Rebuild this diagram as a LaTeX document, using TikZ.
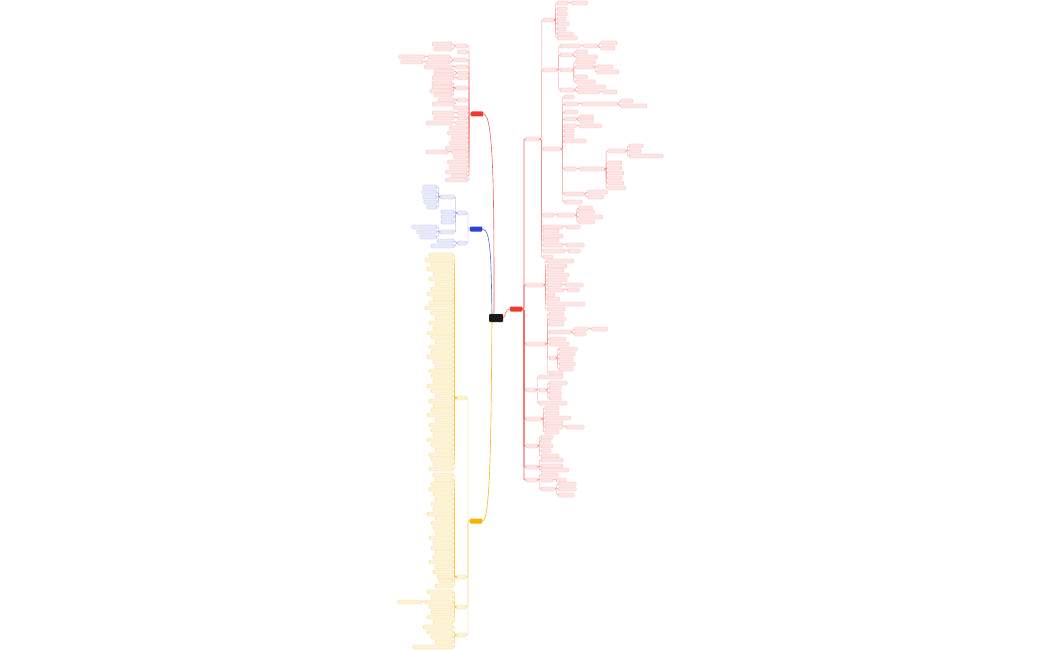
\documentclass[tikz,border=0pt]{standalone}
\usepackage{xcolor}
\usepackage{tikz}
\usetikzlibrary{positioning, calc}
\definecolor{mred}{HTML}{F03A2E}
\definecolor{mblue}{HTML}{2B44D6}
\definecolor{myel}{HTML}{F4B400}

\tikzset{
  rleaf/.style={fill=mred!13, draw=mred!35, line width=0.3pt, rounded corners=1.2pt, inner sep=0pt, minimum height=4pt},
  bleaf/.style={fill=mblue!11, draw=mblue!35, line width=0.3pt, rounded corners=1.2pt, inner sep=0pt, minimum height=4pt},
  yleaf/.style={fill=myel!16, draw=myel!50, line width=0.3pt, rounded corners=1.2pt, inner sep=0pt, minimum height=4pt},
  rlink/.style={draw=mred!60, line width=0.35pt, rounded corners=1.2pt},
  blink/.style={draw=mblue!55, line width=0.35pt, rounded corners=1.2pt},
  ylink/.style={draw=myel!75, line width=0.35pt, rounded corners=1.2pt},
  topic/.style={rounded corners=1pt, inner sep=0pt, minimum width=12.5pt, minimum height=5pt},
}

% children to the right of a parent: parent, prefix, {y/width,...}
\newcommand\rkids[3]{%
  \path (#1.east) ++(3,0) coordinate (tmp);
  \foreach \yy/\ww [count=\k] in {#3}{
    \node[leaf, anchor=west, minimum width=\ww pt] (#2-\k) at (tmp |- 0,\yy) {};
    \draw[link] (#1.east) -- ++(1.5,0) |- (#2-\k.west);
  }}
% children to the left of a parent
\newcommand\lkids[3]{%
  \path (#1.west) ++(-3,0) coordinate (tmp);
  \foreach \yy/\ww [count=\k] in {#3}{
    \node[leaf, anchor=east, minimum width=\ww pt] (#2-\k) at (tmp |- 0,\yy) {};
    \draw[link] (#1.west) -- ++(-1.5,0) |- (#2-\k.east);
  }}

\begin{document}
\begin{tikzpicture}[x=1pt, y=-1pt]
\useasboundingbox[fill=white] (0,0) rectangle (1050,650);

% centre and the four main topics
\node[topic, fill=black!90, minimum width=14pt, minimum height=8pt] (core) at (496,318) {};
\node[topic, fill=mred] (rmain) at (516,309) {};
\node[topic, fill=mred] (lmain) at (477,114) {};
\node[topic, fill=mblue] (bmain) at (476,229) {};
\node[topic, fill=myel] (ymain) at (476,521) {};

\draw[mred!80, line width=0.6pt] (core.east) .. controls (506,316) and (505,309) .. (rmain.west);
\draw[mred!80, line width=0.6pt] ([xshift=-2pt]core.north) .. controls (494,200) and (494,114) .. (lmain.east);
\draw[mblue!80, line width=0.6pt] ([xshift=-4pt]core.north) .. controls (491,260) and (491,229) .. (bmain.east);
\draw[myel!90, line width=0.6pt] ([xshift=-4pt]core.south) .. controls (491,420) and (491,521) .. (ymain.east);

% ---- right red branch
\begin{scope}[leaf/.style={rleaf}, link/.style={rlink, draw=mred!80, line width=0.6pt}]
\rkids{rmain}{a}{139/14, 285/18, 344/20, 390/10, 419/16, 446/12, 467/12, 480/12}
\end{scope}
\begin{scope}[leaf/.style={rleaf}, link/.style={rlink}]
\rkids{a-1}{aa}{20/11, 70/14, 149/18, 215/11, 227/20, 231/16, 236/20, 240/16, 245/20, 251/22, 257/10}
\rkids{aa-1}{aaa}{3/11, 9/10, 14/10, 19/9, 24/12, 29/9, 34/16, 38/20}
\rkids{aaa-1}{aaaa}{3/16}
\rkids{aa-2}{aab}{46/20, 55/12, 70/12, 90/14}
\rkids{aab-1}{aaba}{46/14}
\rkids{aaba-1}{aabaa}{43/16, 48/14}
\rkids{aab-2}{aabb}{52/12, 57/22}
\rkids{aab-3}{aabc}{62/20, 67/18, 77/12, 82/20}
\rkids{aabc-2}{aabca}{67/16, 72/22}
\rkids{aab-4}{aabd}{87/28, 92/22}
\rkids{aabd-2}{aabda}{92/14}
\rkids{aa-3}{aac}{97/10, 104/14, 112/14, 119/12, 126/12, 131/10, 136/10, 141/22, 169/12, 194/20, 202/18}
\rkids{aac-2}{aaca}{104/36}
\rkids{aaca-1}{aacaa}{101/12, 106/26}
\rkids{aac-4}{aacb}{117/14, 121/14}
\rkids{aac-5}{aacc}{126/22}
\rkids{aac-9}{aacd}{169/25}
\rkids{aacd-1}{aacda}{151/18, 163/14, 168/14, 173/16, 178/14, 183/16, 188/18}
\rkids{aacda-1}{aacdaa}{146/14, 151/12, 156/34}
\rkids{aac-10}{aace}{192/20, 197/16}
\rkids{aa-4}{aad}{215/18}
\rkids{aad-1}{aada}{208/14, 212/16, 217/24, 222/16}
\rkids{aa-5}{aae}{227/14}
\rkids{aa-9}{aaf}{245/18}
\rkids{aa-10}{aag}{251/12}
\rkids{a-2}{ab}{261/27, 266/20, 270/17, 275/22, 280/20, 285/15, 290/17, 295/8, 299/13, 304/38, 309/18}
\rkids{ab-6}{aba}{285/18}
\rkids{ab-7}{abb}{290/12}
\rkids{a-3}{ac}{314/15, 319/17, 324/15, 332/22, 339/17, 344/20, 358/7, 373/14}
\rkids{ac-4}{aca}{329/14, 334/12}
\rkids{aca-1}{acaa}{329/16}
\rkids{ac-7}{acb}{349/18, 354/16, 359/14, 364/16, 369/14}
\rkids{a-4}{ad}{377/24, 390/7, 403/28}
\rkids{ad-2}{ada}{383/18, 388/12, 393/12, 398/12}
\rkids{a-5}{ae}{408/14, 413/14, 418/26, 423/18, 427/18, 432/14}
\rkids{ae-5}{aea}{427/18}
\rkids{a-6}{af}{437/12, 441/10, 446/12, 451/10, 456/18}
\rkids{a-7}{ag}{460/22, 466/22, 470/28}
\rkids{a-8}{ah}{475/17, 480/12, 489/14}
\rkids{ah-2}{aha}{480/10}
\rkids{ah-3}{ahb}{484/18, 489/18, 495/16}
\end{scope}

% ---- left red branch
\begin{scope}[leaf/.style={rleaf}, link/.style={rlink}]
\lkids{lmain}{l}{46/12, 52/10, 60/14, 67/12, 73/10, 78/10, 88/12, 100/10, 108/14, 113/10, 118/10, 123/12, 128/18, 133/20, 138/16, 143/18, 148/22, 152/16, 157/14, 162/20, 167/18, 172/22, 176/16, 180/22}
\lkids{l-1}{la}{44/20, 49/18}
\lkids{l-3}{lb}{57/22, 62/24}
\lkids{lb-1}{lba}{57/26}
\lkids{lb-2}{lbb}{62/22}
\lkids{l-4}{lc}{67/28}
\lkids{l-5}{ld}{71/20, 75/20}
\lkids{l-6}{le}{78/22}
\lkids{l-7}{lf}{83/20, 87/20, 91/22, 95/18}
\lkids{l-8}{lg}{100/16, 104/22}
\lkids{l-10}{lh}{113/22}
\lkids{l-11}{li}{118/20}
\lkids{l-12}{lj}{123/26}
\lkids{l-18}{lk}{152/22}
\end{scope}

% ---- blue branch
\begin{scope}[leaf/.style={bleaf}, link/.style={blink}]
\lkids{bmain}{u}{213/9, 243/9}
\lkids{u-1}{ua}{197/14, 212/13, 217/13, 222/13, 232/14}
\lkids{ua-1}{uaa}{187/14, 192/15, 197/14, 202/13, 207/10}
\lkids{ua-5}{uab}{227/25, 232/20, 237/17}
\lkids{u-2}{ub}{241/17, 246/23}
\end{scope}

% ---- yellow branch
\begin{scope}[leaf/.style={yleaf}, link/.style={ylink}]
\lkids{ymain}{y}{398/10, 577/10, 607/10, 635/10}
\lkids{y-1}{ya}{255/24, 260/28, 264/22, 269/26, 274/20, 279/24, 284/18, 289/22, 294/26, 299/20, 303/24, 308/28, 313/22, 318/18, 323/24, 328/20, 333/26, 337/22, 342/18, 347/24, 352/22, 357/26, 362/20, 367/18, 371/24, 376/22, 381/20, 386/26, 391/22, 396/18, 401/24, 406/20, 410/22, 415/26, 420/18, 425/24, 430/22, 435/20, 440/26, 445/22, 450/18, 455/24, 459/22, 464/20, 469/24}
\lkids{y-2}{yb}{475/20, 480/18, 484/22, 489/24, 494/20, 499/18, 504/22, 509/20, 514/26, 518/18, 523/22, 528/20, 533/18, 538/24, 543/20, 548/22, 552/18, 557/20, 562/24, 567/18, 572/20, 577/16, 581/14, 586/18}
\lkids{y-3}{yc}{592/26, 597/22, 602/28, 607/24, 612/22, 617/26, 622/20}
\lkids{yc-3}{yca}{602/24}
\lkids{y-4}{yd}{627/30, 632/26, 637/22, 642/18, 647/40}
\end{scope}
\end{tikzpicture}
\end{document}
